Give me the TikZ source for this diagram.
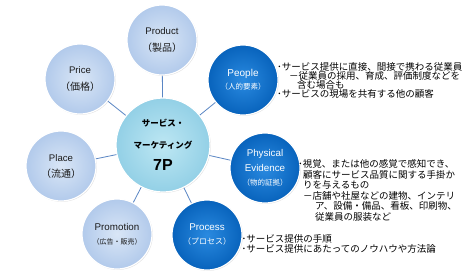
\documentclass[tikz,border=0pt]{standalone}
\usepackage{fontspec}
\setmainfont{Liberation Sans}
\newfontfamily\jp{Noto Sans CJK JP}
\usetikzlibrary{shadows}
\definecolor{lightin}{HTML}{D9E6F6}
\definecolor{lightout}{HTML}{B2CAEB}
\definecolor{darkin}{HTML}{2A8AE0}
\definecolor{darkout}{HTML}{0863BC}
\definecolor{cenin}{HTML}{BDE7F3}
\definecolor{cenout}{HTML}{93D0E6}
\definecolor{linkc}{HTML}{5A86C4}
\definecolor{txtc}{HTML}{1A1A1A}
\tikzset{
  pcircle/.style={circle, inner sep=0pt, minimum size=70pt, draw=white, line width=1.2pt,
    align=center, drop shadow={opacity=0.25, shadow xshift=0.8pt, shadow yshift=-0.8pt}},
  lightc/.style={pcircle, shading=radial, inner color=lightin, outer color=lightout, text=txtc},
  darkc/.style={pcircle, shading=radial, inner color=darkin, outer color=darkout, text=white},
  cenc/.style={pcircle, minimum size=94pt, shading=radial, inner color=cenin, outer color=cenout, text=black},
  link/.style={draw=linkc, line width=0.8pt},
  rtxt/.style={anchor=base west, inner sep=0pt, text=black, font=\jp\fontsize{9.5}{9.5}\selectfont},
}
\begin{document}
\begin{tikzpicture}[x=1pt,y=-1pt]
\useasboundingbox[fill=white] (0,0) rectangle (468,274);

\node[cenc, font=\fontsize{8.5}{22}\selectfont] (c) at (163,145)
  {{\jp\bfseries サービス・}\\{\jp\bfseries マーケティング}\\{\fontsize{16}{16}\selectfont\bfseries 7P}};

\node[lightc, font=\fontsize{9.6}{17}\selectfont] (prod) at (162,40)
  {Product\\{\jp\fontsize{10}{10}\selectfont （製品）}};
\node[lightc, font=\fontsize{9.6}{17}\selectfont] (price) at (80,79)
  {Price\\{\jp\fontsize{10}{10}\selectfont （価格）}};
\node[lightc, font=\fontsize{9.6}{16}\selectfont] (place) at (61,166)
  {Place\\{\jp\fontsize{10}{10}\selectfont （流通）}};
\node[lightc, font=\fontsize{9.8}{14}\selectfont] (promo) at (117,234)
  {Promotion\\{\jp\fontsize{7}{7}\selectfont （広告・販売）}};
\node[darkc, font=\fontsize{9.8}{14}\selectfont] (proc) at (207,235)
  {Process\\{\jp\fontsize{8}{8}\selectfont （プロセス）}};
\node[darkc, font=\fontsize{10}{13}\selectfont] (peop) at (243,80)
  {People\\{\jp\fontsize{7.5}{7.5}\selectfont （人的要素）}};
\node[darkc, font=\fontsize{9.8}{14.5}\selectfont] (phys) at (265,168)
  {Physical\\Evidence\\{\jp\fontsize{7.5}{7.5}\selectfont （物的証拠）}};

\foreach \n in {prod,price,place,promo,proc,peop,phys}
  \draw[link] (c) -- (\n);

% People text
\node[rtxt] (pe1) at (277,70) {･サービス提供に直接、間接で携わる従業員};
\node[rtxt] (pe2) at (289,79.5) {－従業員の採用、育成、評価制度などを};
\node[rtxt] (pe3) at (297,88.5) {含む場合も};
\node[rtxt] (pe4) at (277,97.5) {･サービスの現場を共有する他の顧客};

% Physical evidence text
\node[rtxt] (ph1) at (298,167.5) {･視覚、または他の感覚で感知でき、};
\node[rtxt] (ph2) at (303,178) {顧客にサービス品質に関する手掛か};
\node[rtxt] (ph3) at (303,188.5) {りを与えるもの};
\node[rtxt] (ph4) at (303,199) {－店舗や社屋などの建物、インテリ};
\node[rtxt] (ph5) at (315,209.5) {ア、設備・備品、看板、印刷物、};
\node[rtxt] (ph6) at (315,220) {従業員の服装など};

% Process text
\node[rtxt] (pr1) at (241.5,242) {･サービス提供の手順};
\node[rtxt] (pr2) at (241.5,252) {･サービス提供にあたってのノウハウや方法論};
\end{tikzpicture}
\end{document}
